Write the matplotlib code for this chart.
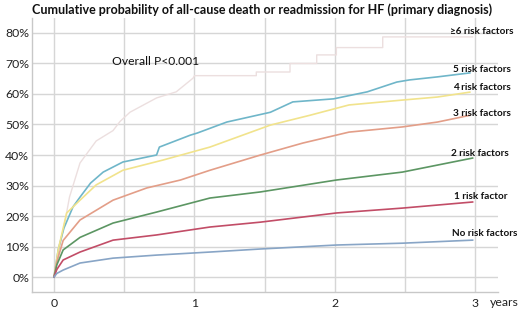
import matplotlib
matplotlib.use("Agg")
import matplotlib.pyplot as plt

# ---- data (years, cumulative %) ----
t_r6 = [0, 0.04, 0.08, 0.11, 0.185, 0.30, 0.42, 0.47, 0.54, 0.73, 0.87, 0.99, 1.0, 1.44, 1.44, 1.68, 1.68,
        1.87, 1.87, 2.01, 2.01, 2.34, 2.34, 2.98]
v_r6 = [0, 10, 18.7, 26.2, 37.4, 44.6, 48, 51, 54, 58.7, 60.7, 65.2, 66.0, 66.0, 67.2, 67.2, 70,
        70, 72.8, 72.8, 75.2, 75.2, 78.7, 78.7]

t_r5 = [0, 0.03, 0.07, 0.135, 0.185, 0.26, 0.35, 0.49, 0.73, 0.75, 0.97, 1.02, 1.23, 1.54, 1.70, 1.99, 2.23, 2.44, 2.53, 2.73, 2.96]
v_r5 = [0, 9, 16, 23, 26.2, 30.8, 34.4, 37.7, 40, 42.6, 46.5, 47.2, 50.8, 54, 57.4, 58.4, 60.7, 63.9, 64.6, 65.6, 66.9]

t_r4 = [0, 0.03, 0.09, 0.185, 0.30, 0.49, 0.78, 1.11, 1.54, 1.82, 2.10, 2.48, 2.73, 2.96]
v_r4 = [0, 9, 21, 25.2, 30.2, 35, 38.4, 42.6, 49.8, 53, 56.4, 58, 59, 60.6]

t_r3 = [0, 0.02, 0.065, 0.185, 0.42, 0.66, 0.90, 1.11, 1.47, 1.77, 2.10, 2.48, 2.73, 2.96]
v_r3 = [0, 5, 12, 18.7, 25.2, 29.2, 31.8, 35, 40, 43.9, 47.5, 49.2, 50.8, 53]

t_r2 = [0, 0.02, 0.065, 0.185, 0.42, 0.73, 1.11, 1.47, 2.01, 2.48, 2.98]
v_r2 = [0, 4, 8.9, 13, 17.7, 21.3, 25.9, 27.9, 31.8, 34.4, 39]

t_r1 = [0, 0.02, 0.065, 0.185, 0.42, 0.73, 1.11, 1.47, 2.01, 2.48, 2.98]
v_r1 = [0, 2.5, 5.6, 8.2, 12.1, 13.8, 16.4, 18, 21, 22.6, 24.6]

t_r0 = [0, 0.02, 0.065, 0.185, 0.42, 0.73, 1.11, 1.47, 2.01, 2.48, 2.98]
v_r0 = [0, 1.2, 2.3, 4.6, 6.2, 7.2, 8.2, 9.2, 10.5, 11.1, 12.1]

labels = ["\u22656 risk factors", "5 risk factors", "4 risk factors", "3 risk factors",
          "2 risk factors", "1 risk factor", "No risk factors"]
label_y = [80.5, 68, 62, 53.5, 40.5, 26.5, 14.2]
label_x = [3.27, 3.25, 3.25, 3.25, 3.24, 3.23, 3.30]

y_ticks = [0, 10, 20, 30, 40, 50, 60, 70, 80]
y_ticklabels = ["0%", "10%", "20%", "30%", "40%", "50%", "60%", "70%", "80%"]
x_ticks = [0, 1, 2, 3]
x_ticklabels = ["0", "1", "2", "3"]

title = "Cumulative probability of all-cause death or readmission for HF (primary diagnosis)"

plt.rcParams['font.family'] = ['Lato', 'DejaVu Sans']

fig = plt.figure(figsize=(5.2, 3.1), dpi=100)
ax = fig.add_axes([0.0615, 0.058, 0.896, 0.884])

grid_c = "#d6d6d6"
for yv in y_ticks:
    ax.axhline(yv, color=grid_c, lw=1, zorder=0)
for xv in [0, 0.5, 1, 1.5, 2, 2.5, 3]:
    ax.axvline(xv, color=grid_c, lw=1, zorder=0)

series = [
    (t_r6, v_r6, "#ecdfdf", 1.0),
    (t_r5, v_r5, "#6fb6c9", 1.2),
    (t_r4, v_r4, "#f1e38c", 1.2),
    (t_r3, v_r3, "#e39e88", 1.2),
    (t_r2, v_r2, "#5c9663", 1.2),
    (t_r1, v_r1, "#c24d67", 1.2),
    (t_r0, v_r0, "#88a5c6", 1.2),
]
for t, v, c, lw in series:
    ax.plot(t, v, color=c, lw=lw, zorder=2, clip_on=False)

for lab, lx, ly in zip(labels, label_x, label_y):
    ax.text(lx, ly, lab, ha="right", va="center", fontsize=7.2, fontweight="bold",
            color="#111111", clip_on=False)

ax.text(0.72, 70.5, "Overall P<0.001", ha="center", va="center", fontsize=8.7, color="#111111")

ax.set_xlim(-0.157, 3.16)
ax.set_ylim(-4.9, 84.9)
ax.set_yticks(y_ticks)
ax.set_yticklabels(y_ticklabels, fontsize=8.8)
ax.set_xticks(x_ticks)
ax.set_xticklabels(x_ticklabels, fontsize=8.8)
ax.tick_params(length=0, pad=2, colors="#222222")
ax.tick_params(axis="x", pad=4)

for s in ["top", "right"]:
    ax.spines[s].set_visible(False)
for s in ["left", "bottom"]:
    ax.spines[s].set_color("#c8c8c8")
    ax.spines[s].set_linewidth(1)

fig.text(0.943, 1 - 302 / 310, "years", ha="left", va="center", fontsize=8.8, color="#222222")
fig.text(0.062, 1 - 10 / 310, title, ha="left", va="center", fontsize=9.0, fontweight="bold",
         color="#111111")

fig.savefig("out.png", dpi=100)
